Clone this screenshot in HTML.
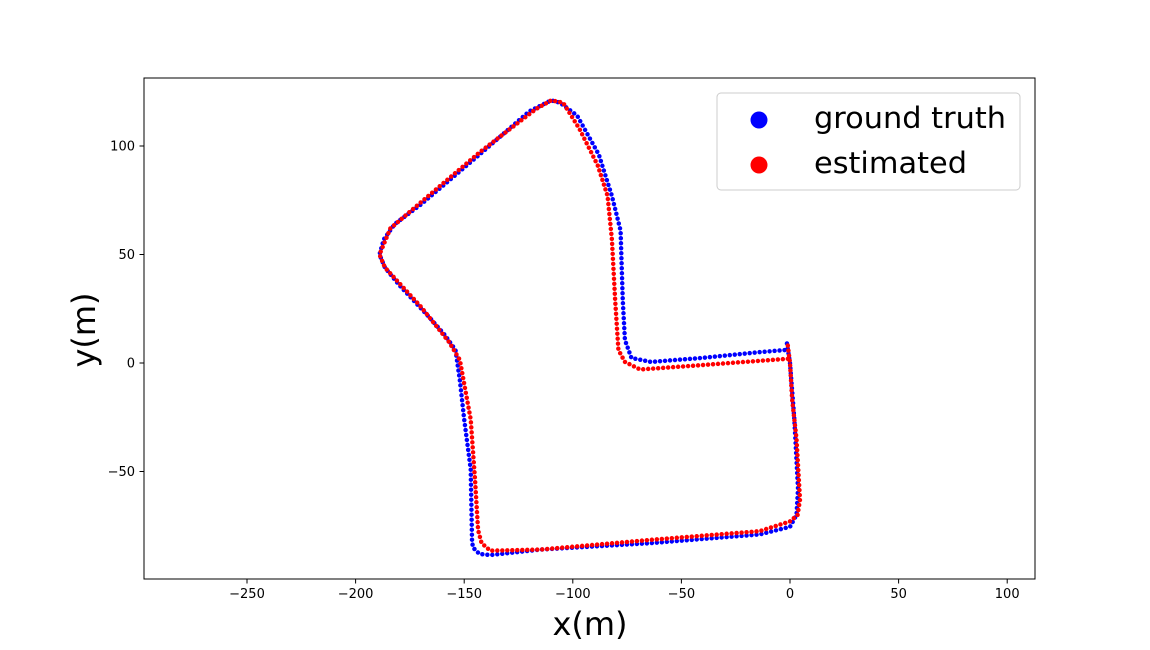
<!DOCTYPE html>
<html><head><meta charset="utf-8"><style>
body{margin:0;background:#fff;}
svg{display:block;font-family:"DejaVu Sans","Liberation Sans",sans-serif;}
</style></head><body>
<svg id="chart" width="1150" height="650">
<rect width="1150" height="650" fill="#fff"/>
<g id="plot"></g>
<rect x="144" y="78" width="891" height="501" fill="none" stroke="#000" stroke-width="1"/>
<g id="xticks"></g>
<g id="yticks"></g>
<text x="590" y="635" font-size="32" text-anchor="middle">x(m)</text>
<text transform="translate(95,330) rotate(-90)" font-size="32" text-anchor="middle">y(m)</text>
<g>
<rect x="717" y="93" width="303" height="97" rx="4" fill="#fff" stroke="#ccc"/>
<circle cx="759" cy="120" r="8.5" fill="#0000ff"/>
<text x="814" y="128" font-size="29" textLength="192" lengthAdjust="spacingAndGlyphs">ground truth</text>
<circle cx="759" cy="165" r="8.5" fill="#ff0000"/>
<text x="814" y="173" font-size="29" textLength="153" lengthAdjust="spacingAndGlyphs">estimated</text>
</g>
</svg>
<script>
const gtX=[-1.4,0,2,3.7,3,0,-14,-64,-115,-138,-143,-146,-146.4,-147,-150,-152,-154,-159,-166,-180,-186.5,-189,-187,-182,-170,-143,-120,-110,-106,-98,-88,-82,-78,-77,-76,-73,-64,-41,-14,-2];
const gtY=[9,0,-26,-58,-70,-75.5,-79,-83,-86,-88.5,-88,-85,-81.5,-49,-26,-8,6,13,21,36,44,50,57,64,73,96,116,121,120,114,96,77,61,29,10.6,2.3,0.5,2.3,5,6];
const esX=[-1,0,1,3,4.6,3.5,0,-14,-64,-115,-138,-142,-143.6,-145,-147,-152,-157,-170,-186.5,-189,-184,-170,-143,-117,-110,-104.5,-97,-88.5,-84,-82,-80.5,-79,-76,-69,-41,-14,0];
const esY=[8,0,-17,-35,-63,-70,-73,-77.5,-81.5,-86,-86.5,-83,-77,-54,-26,1.4,9.7,26,44,50,62,74,97,117,121,120,108,91,77,57,29,6,0.5,-3,-1,1,2];
const xTicks=[-250,-200,-150,-100,-50,0,50,100];
const yTicks=[-50,0,50,100];
const NS='http://www.w3.org/2000/svg';
const sx=v=>790+v*2.172;
const sy=v=>363-v*2.17;
function draw(xs,ys,color,name){
  const p=document.createElementNS(NS,'polyline');
  p.setAttribute('points',xs.map((x,i)=>sx(x)+','+sy(ys[i])).join(' '));
  p.setAttribute('fill','none');p.setAttribute('stroke',color);
  p.setAttribute('stroke-width','4.5');p.setAttribute('stroke-linecap','round');
  p.setAttribute('stroke-linejoin','round');p.setAttribute('stroke-dasharray','0 5');
  
  
  document.getElementById('plot').appendChild(p);
}
draw(gtX,gtY,'#0000ff','ground-truth-series');
draw(esX,esY,'#ff0000','estimated-series');
const xg=document.getElementById('xticks');
xTicks.forEach(t=>{
  const l=document.createElementNS(NS,'line');
  l.setAttribute('x1',sx(t));l.setAttribute('x2',sx(t));l.setAttribute('y1',579);l.setAttribute('y2',583.5);l.setAttribute('stroke','#000');
  
  
  xg.appendChild(l);
  const tx=document.createElementNS(NS,'text');
  tx.setAttribute('x',sx(t));tx.setAttribute('y',598);tx.setAttribute('font-size','13');tx.setAttribute('text-anchor','middle');
  tx.textContent=(t<0?'\u2212'+(-t):String(t));
  
  
  xg.appendChild(tx);
});
const yg=document.getElementById('yticks');
yTicks.forEach(t=>{
  const l=document.createElementNS(NS,'line');
  l.setAttribute('x1',139.5);l.setAttribute('x2',144);l.setAttribute('y1',sy(t));l.setAttribute('y2',sy(t));l.setAttribute('stroke','#000');
  
  
  yg.appendChild(l);
  const tx=document.createElementNS(NS,'text');
  tx.setAttribute('x',135);tx.setAttribute('y',sy(t)+4.5);tx.setAttribute('font-size','13');tx.setAttribute('text-anchor','end');
  tx.textContent=(t<0?'\u2212'+(-t):String(t));
  
  
  yg.appendChild(tx);
});
</script>
</body></html>
